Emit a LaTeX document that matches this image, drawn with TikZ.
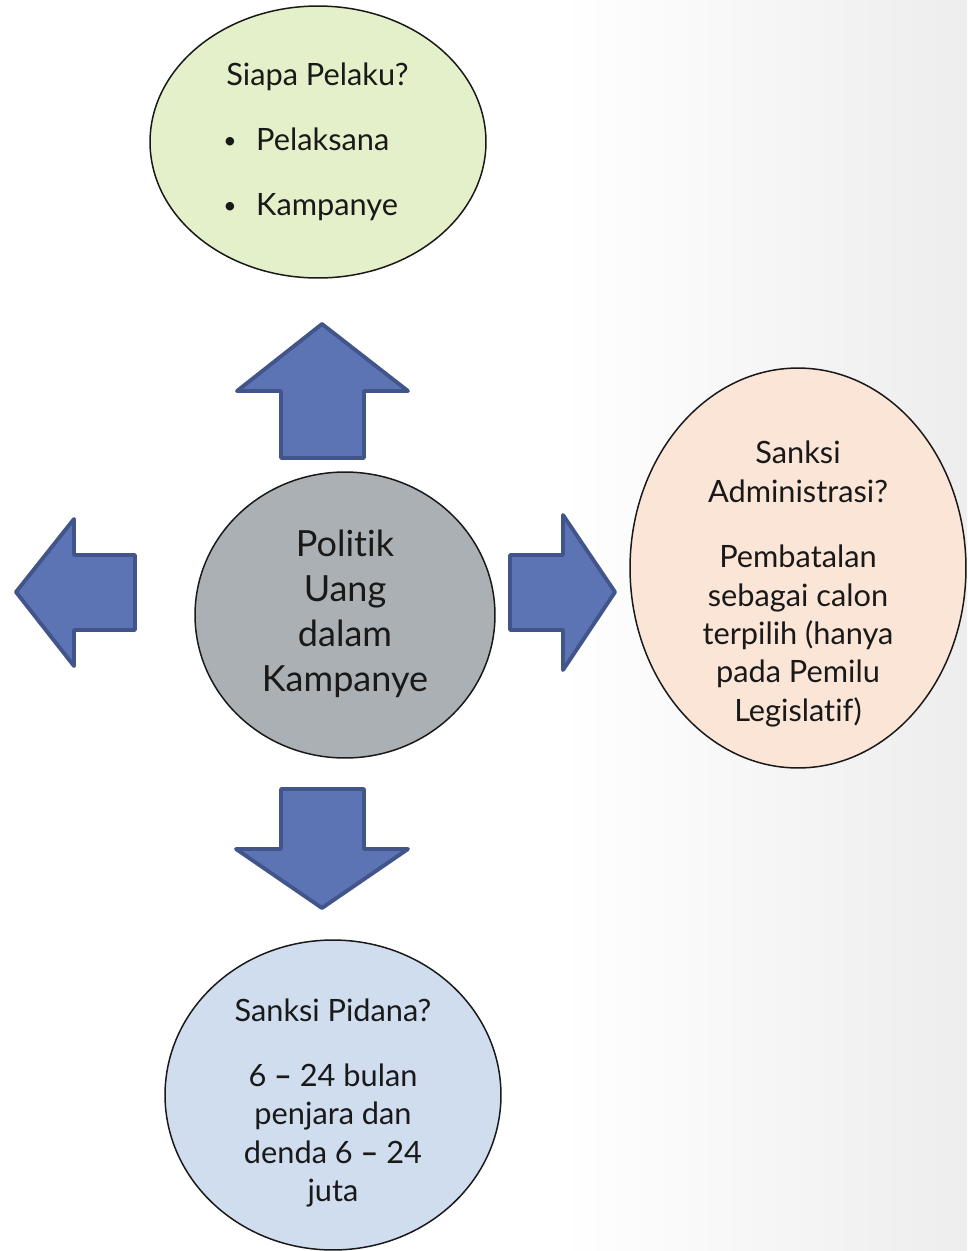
\documentclass[tikz,border=0pt]{standalone}
\usepackage{fontspec}
\setmainfont[Ligatures={NoCommon,NoRequired}]{Lato}
\usetikzlibrary{shapes.geometric}
\definecolor{ijo}{RGB}{227,240,201}
\definecolor{oranye}{RGB}{251,229,214}
\definecolor{biru}{RGB}{208,221,238}
\definecolor{abu}{RGB}{170,176,180}
\definecolor{panahisi}{RGB}{92,116,180}
\definecolor{panahgaris}{RGB}{66,85,138}
\newcommand{\poin}{\makebox[18.7pt][l]{\raisebox{1.5pt}{\fontsize{13}{13}\selectfont\textbullet}}}
\begin{document}
\begin{tikzpicture}[x=0.02cm,y=-0.02cm,
 bubble/.style={draw=black!90,ellipse,line width=0.85pt,inner sep=0pt},
 isi/.style={align=center,inner sep=0pt,text=black!90,font=\fontsize{17.5}{21.8}\selectfont},
 panah/.style={draw=panahgaris,fill=panahisi,line width=2.2pt,line join=round}]
\useasboundingbox (0,0) rectangle (967,1251);
\fill[white] (0,0) rectangle (967,1251);
\shade[left color=white,right color=black!7] (560,0) rectangle (967,1251);
% gelembung
\node[bubble,fill=ijo,minimum width=6.72cm,minimum height=5.44cm] (pelaku) at (318,142) {};
\node[bubble,fill=abu,minimum width=6cm,minimum height=5.72cm] (pusat) at (345,615) {};
\node[bubble,fill=oranye,minimum width=6.72cm,minimum height=8cm] (admin) at (798,568) {};
\node[bubble,fill=biru,minimum width=6.72cm,minimum height=6.2cm] (pidana) at (333,1095) {};
% teks
\node[isi,align=left,font=\fontsize{17.5}{37}\selectfont] (pelakuTxt) at (316,142)
 {\hspace*{1.7pt}Siapa Pelaku?\\\poin Pelaksana\\\poin Kampanye};
\node[isi,font=\fontsize{20.5}{25.5}\selectfont] (pusatTxt) at (345,614) {Politik\\Uang\\dalam\\Kampanye};
\node[isi] (adminTxt) at (798,584)
 {Sanksi\\Administrasi?\\[15.6pt]Pembatalan\\sebagai calon\\terpilih (hanya\\pada Pemilu\\Legislatif)};
\node[isi] (pidanaTxt) at (333,1103)
 {Sanksi Pidana?\\[15.2pt]6 \textbf{--} 24 bulan\\penjara dan\\denda 6 \textbf{--} 24\\juta};
% panah blok
\draw[panah] (322,324) -- (408,391) -- (364,391) -- (364,458) -- (281,458) -- (281,391) -- (237,391) -- cycle;
\draw[panah] (281,789) -- (364,789) -- (364,849) -- (408,849) -- (322,908) -- (236,849) -- (281,849) -- cycle;
\draw[panah] (16,592) -- (74,519) -- (74,555) -- (135,555) -- (135,630) -- (74,630) -- (74,666) -- cycle;
\draw[panah] (510,555) -- (563,555) -- (563,515) -- (615,592) -- (563,670) -- (563,630) -- (510,630) -- cycle;
\end{tikzpicture}
\end{document}
